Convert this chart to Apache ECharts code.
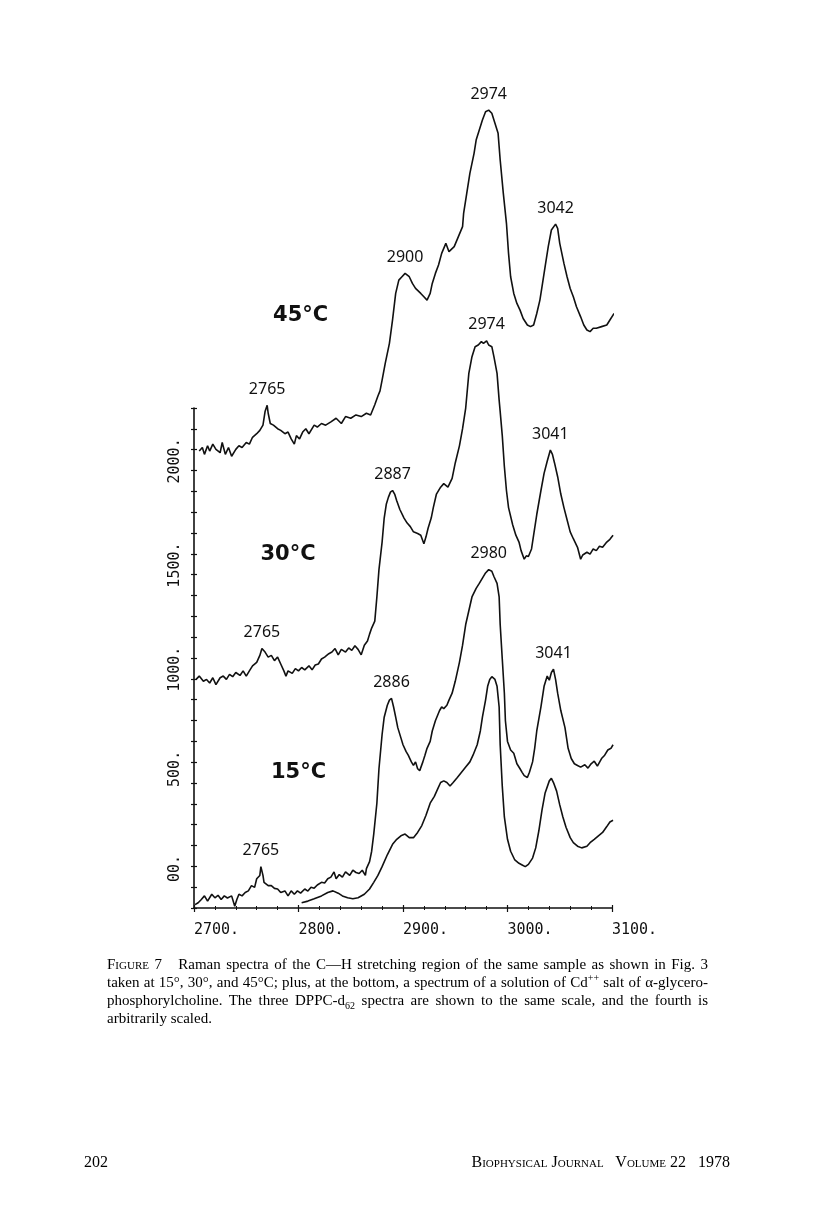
<!DOCTYPE html>
<html><head><meta charset="utf-8">
<script src="https://cdn.jsdelivr.net/npm/echarts@6/dist/echarts.min.js"></script>
<style>
html,body{margin:0;padding:0;background:#fff;width:816px;height:1220px;overflow:hidden;}
#chart{position:absolute;left:0;top:0;width:816px;height:1220px;}
.cap{position:absolute;left:107px;width:601px;font-family:'Liberation Serif','Times New Roman',serif;font-size:15px;color:#000;white-space:nowrap;line-height:18px;text-align:justify;text-align-last:justify;}
.cap.last{text-align:left;text-align-last:left;}
.sc{font-variant:small-caps;}
sup,sub{font-size:10px;line-height:0;}
.foot{position:absolute;font-family:'Liberation Serif','Times New Roman',serif;font-size:16px;color:#000;line-height:18px;}
</style></head><body>
<div id="chart"></div>
<div class="cap" style="top:955px"><span class="sc">Figure</span> 7&nbsp;&nbsp; Raman spectra of the C—H stretching region of the same sample as shown in Fig. 3</div>
<div class="cap" style="top:973px">taken at 15°, 30°, and 45°C; plus, at the bottom, a spectrum of a solution of Cd<sup>++</sup> salt of α-glycero-</div>
<div class="cap" style="top:991px">phosphorylcholine. The three DPPC-d<sub>62</sub> spectra are shown to the same scale, and the fourth is</div>
<div class="cap last" style="top:1009px">arbitrarily scaled.</div>
<div class="foot" style="left:84px;top:1153px">202</div>
<div class="foot sc" style="right:86px;top:1153px">Biophysical Journal&nbsp;&nbsp; Volume 22&nbsp;&nbsp; 1978</div>
<script>
// ---- data (wavenumber cm-1, intensity counts) ----
const xTickLabels = {2700:'2700.', 2800:'2800.', 2900:'2900.', 3000:'3000.', 3100:'3100.'};
const yTickLabels = {0:'00.', 500:'500.', 1000:'1000.', 1500:'1500.', 2000:'2000.'};

const spec45 = [[2705,2189],[2708,2206],[2710,2173],[2713,2214],[2715,2189],[2718,2222],[2721,2197],[2725,2181],[2727,2230],[2730,2173],[2733,2206],[2736,2164],[2740,2197],[2743,2214],[2746,2206],[2750,2230],[2753,2222],[2756,2255],[2760,2272],[2763,2288],[2766,2313],[2768,2378],[2770,2408],[2771,2370],[2773,2321],[2776,2313],[2780,2296],[2783,2288],[2787,2272],[2790,2280],[2793,2247],[2796,2222],[2798,2263],[2801,2247],[2804,2280],[2807,2296],[2810,2272],[2815,2313],[2818,2304],[2822,2321],[2826,2313],[2831,2329],[2836,2346],[2841,2321],[2845,2354],[2850,2346],[2855,2362],[2860,2354],[2865,2370],[2869,2362],[2873,2411],[2876,2453],[2878,2477],[2880,2529],[2883,2609],[2887,2705],[2890,2817],[2893,2944],[2896,3008],[2899,3024],[2902,3040],[2906,3024],[2909,2992],[2912,2968],[2917,2944],[2920,2928],[2923,2912],[2926,2944],[2928,2992],[2931,3040],[2934,3080],[2937,3136],[2941,3184],[2944,3144],[2949,3168],[2953,3216],[2957,3264],[2958,3327],[2961,3423],[2964,3519],[2968,3615],[2970,3679],[2973,3727],[2976,3775],[2979,3814],[2982,3822],[2985,3807],[2988,3759],[2991,3711],[2993,3583],[2996,3423],[2999,3280],[3001,3136],[3003,3024],[3006,2944],[3009,2896],[3012,2864],[3015,2824],[3019,2793],[3022,2785],[3025,2793],[3028,2848],[3031,2912],[3033,2976],[3036,3072],[3039,3168],[3042,3248],[3046,3276],[3048,3256],[3050,3184],[3054,3088],[3057,3024],[3060,2968],[3063,2928],[3066,2880],[3070,2832],[3073,2793],[3076,2769],[3079,2761],[3082,2777],[3085,2777],[3090,2785],[3095,2793],[3098,2817],[3102,2848]];

const spec30 = [[2702,1095],[2705,1111],[2709,1086],[2712,1095],[2715,1078],[2718,1103],[2721,1070],[2725,1103],[2728,1111],[2731,1095],[2734,1119],[2737,1108],[2740,1128],[2744,1114],[2747,1136],[2750,1111],[2753,1136],[2756,1160],[2760,1177],[2763,1210],[2765,1243],[2768,1226],[2771,1202],[2774,1210],[2777,1185],[2780,1202],[2783,1169],[2786,1136],[2788,1111],[2790,1136],[2794,1124],[2797,1147],[2800,1136],[2803,1152],[2806,1141],[2810,1160],[2813,1141],[2816,1164],[2819,1169],[2822,1193],[2825,1202],[2829,1218],[2832,1226],[2835,1243],[2838,1213],[2841,1239],[2845,1226],[2848,1246],[2851,1234],[2854,1256],[2857,1239],[2860,1213],[2863,1259],[2866,1279],[2868,1312],[2870,1341],[2873,1374],[2875,1490],[2877,1621],[2880,1753],[2882,1868],[2884,1934],[2886,1967],[2888,1992],[2890,2000],[2892,1983],[2894,1951],[2897,1909],[2901,1868],[2904,1844],[2907,1827],[2910,1802],[2914,1794],[2917,1786],[2920,1745],[2922,1778],[2924,1819],[2927,1868],[2929,1918],[2932,1983],[2936,2016],[2939,2033],[2943,2016],[2947,2058],[2950,2132],[2954,2214],[2957,2296],[2960,2395],[2963,2561],[2966,2641],[2969,2689],[2972,2697],[2975,2713],[2977,2705],[2980,2717],[2982,2697],[2985,2689],[2987,2641],[2990,2561],[2992,2433],[2993,2378],[2995,2263],[2997,2115],[2999,2000],[3001,1918],[3005,1835],[3008,1786],[3011,1753],[3013,1712],[3016,1671],[3018,1687],[3020,1684],[3023,1720],[3025,1786],[3028,1885],[3032,2000],[3035,2082],[3038,2140],[3041,2194],[3043,2173],[3045,2132],[3048,2066],[3051,1983],[3054,1918],[3057,1860],[3060,1802],[3063,1769],[3067,1728],[3070,1671],[3072,1691],[3076,1704],[3079,1695],[3082,1720],[3085,1712],[3088,1733],[3091,1728],[3095,1753],[3098,1766],[3101,1786]];

const spec15 = [[2701,16],[2704,25],[2707,41],[2710,58],[2713,33],[2717,66],[2720,49],[2723,61],[2726,41],[2729,58],[2732,48],[2736,58],[2739,8],[2741,41],[2743,66],[2746,58],[2749,74],[2752,82],[2755,107],[2758,99],[2760,140],[2763,156],[2764,198],[2766,156],[2767,123],[2771,107],[2774,107],[2777,94],[2780,91],[2783,74],[2787,82],[2790,58],[2793,82],[2796,66],[2799,82],[2802,71],[2806,91],[2809,81],[2812,99],[2815,95],[2818,110],[2822,123],[2825,120],[2828,140],[2831,148],[2834,173],[2836,140],[2839,160],[2842,148],[2845,173],[2849,156],[2852,181],[2855,170],[2858,165],[2861,181],[2864,156],[2865,189],[2868,222],[2870,272],[2872,354],[2875,502],[2877,667],[2880,831],[2882,914],[2885,971],[2887,996],[2889,1004],[2891,963],[2893,914],[2895,864],[2898,815],[2900,782],[2903,749],[2905,732],[2908,700],[2910,683],[2912,700],[2914,667],[2916,658],[2919,700],[2921,732],[2923,765],[2926,798],[2928,848],[2931,897],[2935,946],[2937,963],[2939,955],[2942,971],[2944,996],[2947,1029],[2950,1086],[2954,1177],[2957,1259],[2960,1358],[2963,1424],[2966,1490],[2970,1531],[2973,1555],[2976,1580],[2979,1605],[2982,1621],[2985,1613],[2987,1588],[2990,1555],[2992,1490],[2993,1358],[2995,1193],[2997,1029],[2998,897],[3000,798],[3003,757],[3006,741],[3009,691],[3012,667],[3014,650],[3016,634],[3019,625],[3021,650],[3024,700],[3026,765],[3028,848],[3032,963],[3035,1062],[3038,1111],[3040,1091],[3042,1128],[3044,1144],[3046,1095],[3048,1029],[3051,946],[3055,864],[3058,765],[3061,716],[3064,691],[3067,683],[3070,675],[3074,686],[3077,670],[3080,691],[3083,703],[3086,680],[3090,716],[3093,732],[3096,757],[3099,765],[3101,782]];

const specCd = [[2803,25],[2809,33],[2815,44],[2822,58],[2828,74],[2833,82],[2838,71],[2842,58],[2847,49],[2852,44],[2857,49],[2863,66],[2868,91],[2872,123],[2876,156],[2880,198],[2885,255],[2890,305],[2894,329],[2898,346],[2902,354],[2906,337],[2910,337],[2914,362],[2918,395],[2922,444],[2926,502],[2930,535],[2933,568],[2936,601],[2939,609],[2942,601],[2945,584],[2948,601],[2952,625],[2956,650],[2960,675],[2964,700],[2967,732],[2971,782],[2974,848],[2976,914],[2979,996],[2981,1062],[2983,1095],[2985,1108],[2988,1095],[2990,1062],[2992,963],[2993,782],[2995,584],[2997,436],[3000,329],[3003,272],[3007,230],[3011,214],[3014,206],[3017,198],[3020,209],[3024,239],[3027,288],[3030,370],[3033,469],[3036,551],[3040,609],[3042,621],[3044,601],[3047,560],[3050,494],[3053,436],[3056,387],[3060,337],[3063,313],[3067,296],[3071,288],[3076,296],[3079,313],[3083,329],[3087,346],[3091,362],[3095,390],[3098,412],[3101,420]];

const peaks45 = ['2765','2900','2974','3042'];
const peaks30 = ['2765','2887','2974','3041'];
const peaks15 = ['2765','2886','2980','3041'];
const tempLabels = ['45°C','30°C','15°C'];

// ---- chart ----
const INK = '#111';
const plotFont = "'DejaVu Sans Mono', monospace";
const peakFont = "'Noto Sans', 'DejaVu Sans', sans-serif";

function peakItems(data, labels) {
  return labels.map(function (lab) {
    const v = parseFloat(lab);
    let best = null;
    data.forEach(function (p) {
      if (p[0] >= v - 8 && p[0] <= v + 16 && (!best || p[1] > best[1])) best = p;
    });
    return { name: lab, coord: [best[0], best[1]] };
  });
}
function tempItem(name, coord) {
  return { name: name, coord: coord,
    label: { position: 'inside', fontSize: 21, fontWeight: 'bold',
             fontFamily: "'DejaVu Sans', sans-serif", color: INK } };
}
function spectrum(name, data, marks) {
  return {
    name: name, type: 'line', xAxisIndex: 2, yAxisIndex: 2, data: data,
    showSymbol: false, clip: false, silent: true, animation: false,
    lineStyle: { color: INK, width: 1.6 },
    markPoint: {
      symbol: 'circle', symbolSize: 0, animation: false, silent: true,
      label: { show: true, position: 'top', distance: 8, formatter: '{b}',
               color: INK, fontSize: 16, fontFamily: peakFont },
      data: marks
    }
  };
}

const chart = echarts.init(document.getElementById('chart'), null, { renderer: 'canvas' });
chart.setOption({
  animation: false,
  backgroundColor: '#fff',
  grid: [
    { left: 194, right: 204, top: 408, bottom: 312 },
    { left: 194, right: 204, top: 73, bottom: 312 }
  ],
  xAxis: [
    { gridIndex: 0, type: 'value', position: 'bottom', min: 2700, max: 3100, interval: 100,
      axisLine: { show: true, lineStyle: { color: INK, width: 1.6 } },
      axisTick: { show: true, length: 4, lineStyle: { color: INK, width: 1.2 } },
      minorTick: { show: true, splitNumber: 5, length: 2, lineStyle: { color: INK, width: 1 } },
      splitLine: { show: false }, minorSplitLine: { show: false },
      axisLabel: { show: true, align: 'left', verticalAlign: 'middle', margin: 22,
        color: INK, fontSize: 15, fontFamily: plotFont,
        formatter: function (v) { return xTickLabels[v] || ''; } } },
    { gridIndex: 0, type: 'value', position: 'bottom', min: 2700, max: 3100, interval: 100,
      axisLine: { show: false },
      axisTick: { show: true, inside: true, length: 3, lineStyle: { color: INK, width: 1.2 } },
      minorTick: { show: true, splitNumber: 5, length: 2, lineStyle: { color: INK, width: 1 } },
      splitLine: { show: false }, axisLabel: { show: false } },
    { gridIndex: 1, type: 'value', min: 2700, max: 3100, show: false }
  ],
  yAxis: [
    { gridIndex: 0, type: 'value', position: 'left', min: 0, max: 2400, interval: 100,
      axisLine: { show: true, lineStyle: { color: INK, width: 1.6 } },
      axisTick: { show: true, length: 3, lineStyle: { color: INK, width: 1.2 } },
      splitLine: { show: false },
      axisLabel: { show: true, rotate: 90, align: 'left', verticalAlign: 'middle', margin: 19,
        color: INK, fontSize: 15, fontFamily: plotFont,
        formatter: function (v) { return yTickLabels[v] ? '{a|' + yTickLabels[v] + '}' : ''; },
        rich: { a: { width: 53, align: 'right', fontSize: 15, fontFamily: plotFont, color: INK } } } },
    { gridIndex: 0, type: 'value', position: 'left', min: 0, max: 2400, interval: 100,
      axisLine: { show: false },
      axisTick: { show: true, inside: true, length: 3, lineStyle: { color: INK, width: 1.2 } },
      splitLine: { show: false }, axisLabel: { show: false } },
    { gridIndex: 1, type: 'value', min: 0, max: 4000, show: false }
  ],
  series: [
    spectrum('45°C', spec45, peakItems(spec45, peaks45).concat([tempItem(tempLabels[0], [2802, 2840])])),
    spectrum('30°C', spec30, peakItems(spec30, peaks30).concat([tempItem(tempLabels[1], [2790, 1691])])),
    spectrum('15°C', spec15, peakItems(spec15, peaks15).concat([tempItem(tempLabels[2], [2800, 647])])),
    spectrum('Cd++ glycerophosphorylcholine', specCd, [])
  ]
});
</script>
</body></html>
